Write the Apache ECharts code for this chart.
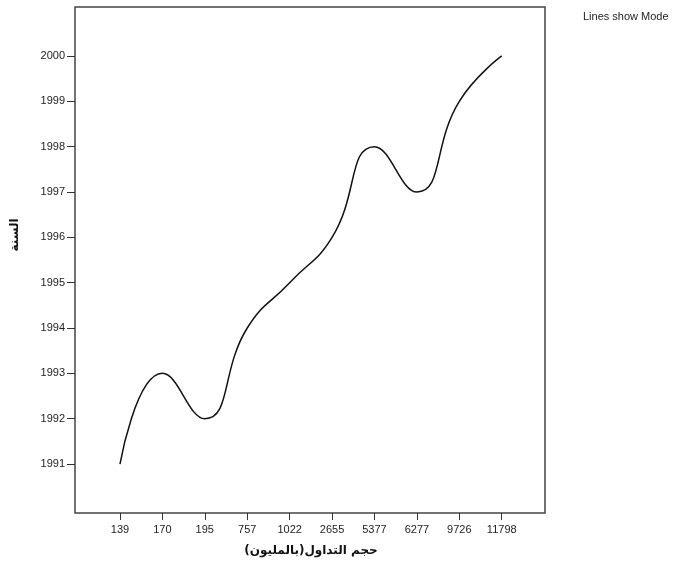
<!DOCTYPE html>
<html>
<head>
<meta charset="utf-8">
<script src="https://cdn.jsdelivr.net/npm/echarts@6/dist/echarts.min.js"></script>
<style>html,body{margin:0;padding:0;background:#fff}#c{width:684px;height:573px}</style>
</head>
<body>
<div id="c"></div>
<script>
var categories = ['139','170','195','757','1022','2655','5377','6277','9726','11798'];
var years = [1991,1993,1992,1994,1995,1996,1998,1997,1999,2000];
var yTicks = [1991,1992,1993,1994,1995,1996,1997,1998,1999,2000];
var xTitle = 'حجم التداول(بالمليون)';
var yTitle = 'السنة';
var note = 'Lines show Mode';

var chart = echarts.init(document.getElementById('c'), null, {renderer:'canvas'});
var idx = categories.map(function(_, i){ return i; });
chart.setOption({
  animation:false,
  grid:{left:75, right:139, top:7, bottom:60, show:true, borderColor:'#444', borderWidth:1.5, backgroundColor:'#fff'},
  xAxis:{type:'value', min:-1.06, max:10.02,
    axisLine:{show:false, onZero:false}, splitLine:{show:false},
    axisTick:{show:true, customValues:idx, length:7, lineStyle:{color:'#333'}},
    axisLabel:{customValues:idx, color:'#222', fontSize:11, fontFamily:'Liberation Sans, Arial', margin:11,
      formatter:function(v){ return categories[Math.round(v)]; }}
  },
  yAxis:{type:'value', min:1989.92, max:2001.08,
    axisLine:{show:false, onZero:false}, splitLine:{show:false},
    axisTick:{show:true, customValues:yTicks, length:8, lineStyle:{color:'#333'}},
    axisLabel:{customValues:yTicks, color:'#222', fontSize:11, fontFamily:'Liberation Sans, Arial', margin:10,
      formatter:function(v){ return String(Math.round(v)); }}
  },
  graphic:[
    {type:'text', x:311, y:545, style:{text:xTitle, font:'bold 12px "DejaVu Sans", Arial', fill:'#111', align:'center'}},
    {type:'text', rotation:Math.PI/2, x:15, y:235, style:{text:yTitle, font:'bold 12px "DejaVu Sans", Arial', fill:'#111', align:'center', verticalAlign:'middle'}},
    {type:'text', x:583, y:11, style:{text:note, font:'11px "Liberation Sans", Arial', fill:'#222'}}
  ],
  series:[{type:'line', data:idx.map(function(i){return [i, years[i]];}), smooth:0.5, symbol:'none',
    lineStyle:{color:'#111', width:1.5}}]
});
</script>
</body>
</html>
